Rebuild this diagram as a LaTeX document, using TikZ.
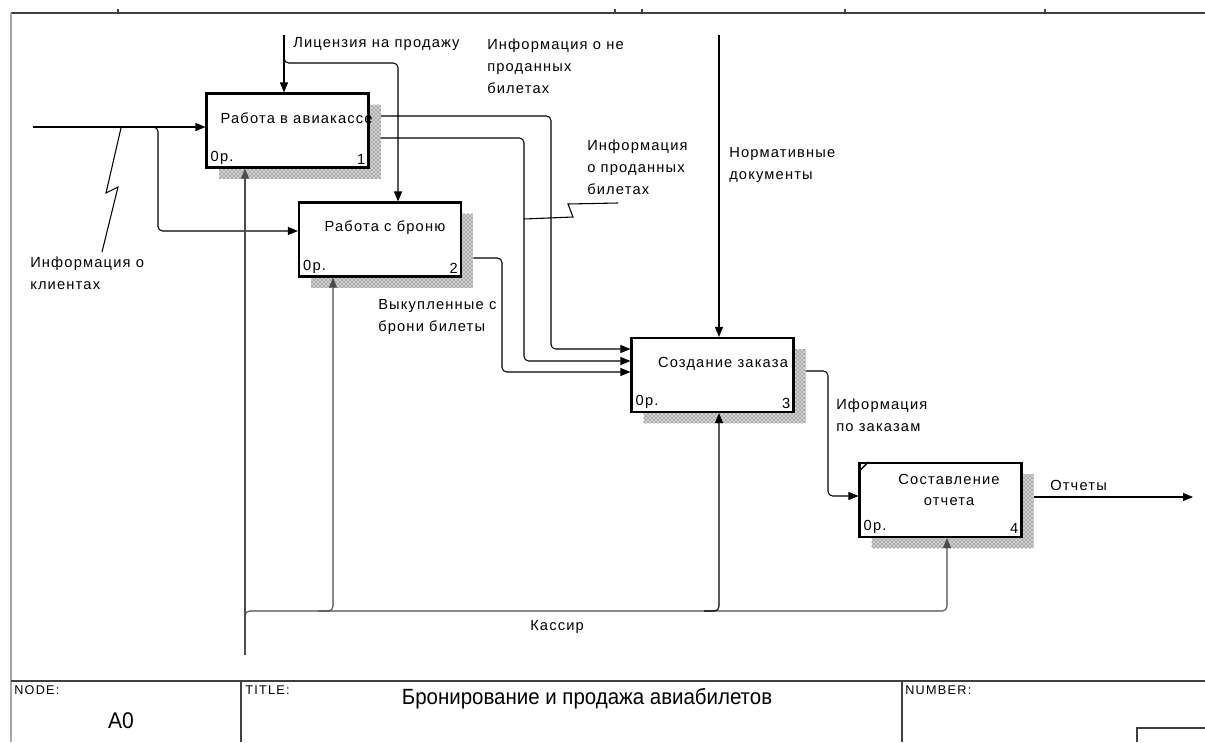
\documentclass[tikz,border=0pt]{standalone}
\usepackage{fontspec}
\setmainfont{Liberation Sans}
\newfontfamily\idef[LetterSpace=8]{Liberation Sans}
\newfontfamily\blkfont[LetterSpace=10]{Liberation Sans}
\newfontfamily\titlefont[FakeStretch=0.93]{Liberation Sans}
\usetikzlibrary{arrows.meta,patterns,calc}

\begin{document}
\begin{tikzpicture}[x=0.75pt,y=-0.75pt,
  conn/.style={line width=0.8pt, draw=black},
  arr/.style={conn, -{Triangle[length=7.5pt,width=6pt]}},
  rc/.style={rounded corners=3.5pt},
  func/.style={draw, line width=1.6pt, fill=white, minimum width=121.5pt,
               minimum height=55.5pt, inner sep=0pt},
  shadebg/.style={fill=black!18},
  shade/.style={pattern=crosshatch dots, pattern color=black!80},
  lbl/.style={font=\idef\fontsize{11pt}{16.5pt}\selectfont, inner sep=0pt, align=left},
  ctr/.style={lbl, align=center},
  frame/.style={line width=0.9pt, draw=black!75},
  blk/.style={font=\blkfont\fontsize{9.5pt}{11pt}\selectfont, inner sep=0pt, anchor=west},
  fromshadow/.style={shorten <=8.5pt},
  tunnel/.style={draw=black!70}
]
\useasboundingbox (0,0) rectangle (1205,742);

% ---- sheet frame ----
\draw[frame] (11,13) -- (1205,13);
\draw[line width=0.9pt, draw=black!35] (11,13) -- (11,742);
\foreach \tx in {118,615,642,845,1045} \draw[frame] (\tx,13) -- (\tx,9);

% ---- activity boxes ----
\coordinate (c1) at (287.5,130.5);
\coordinate (c2) at (380,239.5);
\coordinate (c3) at (712.5,375);
\coordinate (c4) at (940.5,500);
\foreach \c in {c1,c2,c3,c4}{
  \fill[shadebg] ($(\c)+(-69,-26)$) rectangle ($(\c)+(93,48)$);
  \fill[shade] ($(\c)+(-69,-26)$) rectangle ($(\c)+(93,48)$);
}
\node[func] (b1) at (c1) {};
\node[func] (b2) at (c2) {};
\node[func] (b3) at (c3) {};
\node[func] (b4) at (c4) {};
\draw[line width=1pt] ($(b4.north west)+(0,10)$) -- ($(b4.north west)+(10,0)$);

\node[lbl, anchor=west] (t1) at ($(b1.west)+(15,-12.5)$) {Работа в авиакассе};
\node[ctr] (t2) at ($(c2)+(5,-11.5)$) {Работа с броню};
\node[ctr] (t3) at ($(c3)+(10.5,-11)$) {Создание заказа};
\node[ctr, font=\idef\fontsize{11pt}{15.75pt}\selectfont] (t4) at ($(c4)+(8.5,-10.5)$) {Составление\\отчета};
\foreach \b/\n in {b1/1,b2/2,b3/3,b4/4}{
  \node[lbl, anchor=south west] (\b p) at ($(\b.south west)+(5,-4)$) {0р.};
  \node[lbl, anchor=south east] (\b n) at ($(\b.south east)+(-4,-4)$) {\n};
}

% ---- inputs ----
\coordinate (inL) at (33,127);
\draw[arr] (inL) -- (inL -| b1.west);
\coordinate (j1) at (148,127);
\draw[arr, rc] (j1) -- (158,127) -- (158,231) -- (b2.west |- 0,231);
\draw[conn] (121,128) -- (106,193) -- (118,187) -- (102,252);
\node[lbl, anchor=north west] (lin) at (30,257) {Информация о\\клиентах};

% ---- controls ----
\coordinate (licTop) at (284,35);
\draw[arr] (licTop) -- (licTop |- b1.north);
\draw[arr, rc] (284,52) -- (284,63) -- (398,63) -- (398,0 |- b2.north);
\node[lbl, anchor=west] (llic) at (293,44) {Лицензия на продажу};

\coordinate (normTop) at (719,35);
\draw[arr] (normTop) -- (normTop |- b3.north);
\node[lbl, anchor=north west] (lnorm) at (729,147) {Нормативные\\документы};

% ---- outputs from 1 and 2 into 3 ----
\draw[arr, rc, fromshadow] (b1.east |- 0,116) -- (551,116) -- (551,349) -- (b3.west |- 0,349);
\draw[arr, rc, fromshadow] (b1.east |- 0,138) -- (524,138) -- (524,361) -- (b3.west |- 0,361);
\draw[arr, rc, fromshadow] (b2.east |- 0,258) -- (502,258) -- (502,372) -- (b3.west |- 0,372);
\node[lbl, anchor=north west] (lnot) at (487,39) {Информация о не\\проданных\\билетах};
\draw[conn] (524,219) -- (573,217) -- (568,204) -- (618,203);
\node[lbl, anchor=north west] (lsold) at (587,140) {Информация\\о проданных\\билетах};
\node[lbl, anchor=north west] (lbuy) at (378,299) {Выкупленные с\\брони билеты};

% ---- 3 -> 4 -> report ----
\draw[arr, rc, fromshadow] (b3.east |- 0,371) -- (828,371) -- (828,496) -- (b4.west |- 0,496);
\node[lbl, anchor=north west] (lord) at (836,399) {Иформация\\по заказам};
\coordinate (repEnd) at (1193,497);
\draw[arr, fromshadow] (b4.east |- repEnd) -- (repEnd);
\node[lbl, anchor=west] (lrep) at (1050,485) {Отчеты};

% ---- mechanism ----
\coordinate (kSrc) at (245,655);
\draw[arr, tunnel] (kSrc) -- (kSrc |- b1.south);
\draw[arr, rc, tunnel] (245,625) -- (245,611) -- (947,611) -- (947,0 |- b4.south);
\draw[arr, rc, tunnel] (318,611) -- (333,611) -- (333,0 |- b2.south);
\draw[arr, rc] (704,611) -- (719,611) -- (719,0 |- b3.south);
\node[lbl, anchor=west] (lkas) at (530,627) {Кассир};

% ---- title block ----
\draw[frame] (11,681) -- (1205,681);
\draw[frame] (241,681) -- (241,742);
\draw[frame] (902,681) -- (902,742);
\draw[frame] (1137,742) -- (1137,728) -- (1205,728);
\node[blk] (hnode) at (14,690) {NODE:};
\node[blk] (htitle) at (245,690) {TITLE:};
\node[blk] (hnum) at (905,690) {NUMBER:};
\node[font=\titlefont\fontsize{17pt}{19pt}\selectfont, inner sep=0pt] (vnode) at (121,721) {A0};
\node[font=\titlefont\fontsize{16.5pt}{18pt}\selectfont, inner sep=0pt] (vtitle) at (587,699) {Бронирование и продажа авиабилетов};
\end{tikzpicture}
\end{document}
